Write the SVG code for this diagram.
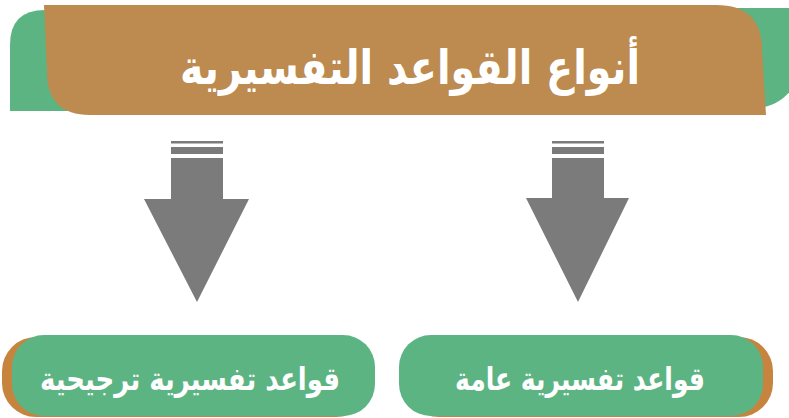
<svg xmlns="http://www.w3.org/2000/svg" width="789" height="418" viewBox="0 0 789 418">
<defs>
<style>
.green{fill:#5db483;}
.brown{fill:#bd8a4f;}
.brown2{fill:#c6843f;}
.arrow{fill:#7b7b7b;}
.t{font-family:"DejaVu Sans",sans-serif;font-weight:bold;fill:#ffffff;text-anchor:middle;}
</style>
</defs>
<rect width="789" height="418" fill="#ffffff"/>
<g id="title">
<path class="green" d="M10,111 L10,45 Q10,10 45,10 L110,10 L110,111 Z"/>
<path class="green" d="M720,8 L800,8 L800,63 A45,45 0 0 1 755,108 L720,108 Z"/>
<path class="brown" d="M44,5 L716,5 Q762,5 762,50 L766,115 L90,115 Q47,115 47,72 Z"/>
<text class="t" x="410" y="84" font-size="48" textLength="460" lengthAdjust="spacingAndGlyphs">أنواع القواعد التفسيرية</text>
</g>
<g id="connectors">
<g id="arrow-left">
<rect class="arrow" x="171" y="141" width="52" height="2.5"/>
<rect class="arrow" x="171" y="147" width="52" height="7"/>
<polygon class="arrow" points="171,158 223,158 223,199 249,199 197,302 144,199 171,199"/>
</g>
<g id="arrow-right">
<rect class="arrow" x="552" y="141" width="52" height="2.5"/>
<rect class="arrow" x="552" y="147" width="52" height="7"/>
<polygon class="arrow" points="552,158 604,158 604,198 629,198 578,302 526,198 552,198"/>
</g>
</g>
<g id="node-left">
<rect class="brown2" x="2" y="337" width="368" height="80" rx="34"/>
<rect class="green" x="12" y="335" width="363" height="81" rx="32"/>
<text class="t" x="190" y="390" font-size="32" textLength="300" lengthAdjust="spacingAndGlyphs">قواعد تفسيرية ترجيحية</text>
</g>
<g id="node-right">
<rect class="brown2" x="405" y="337" width="368" height="80" rx="34"/>
<rect class="green" x="399" y="335" width="364" height="81" rx="32"/>
<text class="t" x="580" y="390" font-size="32" textLength="250" lengthAdjust="spacingAndGlyphs">قواعد تفسيرية عامة</text>
</g>
</svg>
